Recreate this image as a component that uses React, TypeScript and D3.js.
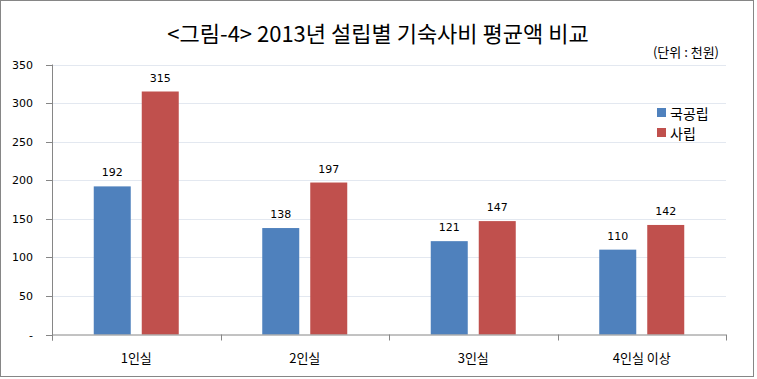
import React from "react";
import * as d3 from "d3";

const categories = ["1인실", "2인실", "3인실", "4인실 이상"];
const seriesNames = ["국공립", "사립"];
const publicValues = [192, 138, 121, 110];
const privateValues = [315, 197, 147, 142];
const yTicks = [0, 50, 100, 150, 200, 250, 300, 350];
const colors = ["#4F81BD", "#C0504D"];

export default function App() {
  const W = 757, H = 379;
  const left = 52, right = 726, top = 64.5, bottom = 334.5;
  const x = d3.scaleBand().domain(categories).range([left, right]);
  const y = d3.scaleLinear().domain([0, 350]).range([bottom, top]);
  const barW = 37, gap = 11;
  const series = [publicValues, privateValues];
  const kfont = "'Noto Sans CJK KR', 'Noto Sans', sans-serif";
  const nfont = "'DejaVu Sans', sans-serif";
  return (
    <svg width={W} height={H} style={{ position: "absolute", left: 0, top: 0, background: "#fff" }}>
      <rect x={0.5} y={0.5} width={W - 4} height={H - 3} fill="#fff" stroke="#868686" />
      <text x={378} y={42} textAnchor="middle" fontFamily={kfont} fontSize={22} fill="#000">
        {"<그림-4> 2013년 설립별 기숙사비 평균액 비교"}
      </text>
      <text x={719} y={57} textAnchor="end" fontFamily={kfont} fontSize={13} fill="#000">
        {"(단위 : 천원)"}
      </text>
      {yTicks.filter((t) => t > 0).map((t) => (
        <line key={t} x1={left} x2={right} y1={Math.round(y(t)) + 0.5} y2={Math.round(y(t)) + 0.5} stroke="#E3E8F0" />
      ))}
      {yTicks.map((t) => (
        <g key={"t" + t}>
          <line x1={left - 6} x2={left} y1={Math.round(y(t)) + 0.5} y2={Math.round(y(t)) + 0.5} stroke="#868686" />
          <text x={33} y={y(t) + 4} textAnchor="end" fontFamily={nfont} fontSize={11} fill="#000">
            {t === 0 ? "-" : t}
          </text>
        </g>
      ))}
      {categories.map((c, i) =>
        series.map((vals, s) => {
          const cx = x(c)! + x.bandwidth() / 2;
          const bx = s === 0 ? cx - gap / 2 - barW : cx + gap / 2;
          const v = vals[i];
          return (
            <g key={c + s}>
              <rect x={bx} y={y(v)} width={barW} height={bottom - y(v)} fill={colors[s]} />
              <text x={bx + barW / 2} y={y(v) - 10} textAnchor="middle" fontFamily={nfont} fontSize={11} fill="#000">
                {v}
              </text>
            </g>
          );
        })
      )}
      <line x1={left + 0.5} x2={left + 0.5} y1={top} y2={bottom + 6} stroke="#868686" />
      <line x1={left} x2={right} y1={bottom + 0.5} y2={bottom + 0.5} stroke="#868686" />
      {[...categories.map((c) => x(c)!), right].map((px, i) => (
        <line key={"xt" + i} x1={Math.round(px) + 0.5} x2={Math.round(px) + 0.5} y1={bottom} y2={bottom + 6} stroke="#868686" />
      ))}
      {categories.map((c) => (
        <text key={"xl" + c} x={x(c)! + x.bandwidth() / 2} y={363} textAnchor="middle" fontFamily={kfont} fontSize={13} fill="#000">
          {c}
        </text>
      ))}
      {seriesNames.map((n, i) => (
        <g key={n}>
          <rect x={657} y={108 + i * 20} width={9} height={9} fill={colors[i]} />
          <text x={670} y={119 + i * 20} fontFamily={kfont} fontSize={14} fill="#000">
            {n}
          </text>
        </g>
      ))}
    </svg>
  );
}
